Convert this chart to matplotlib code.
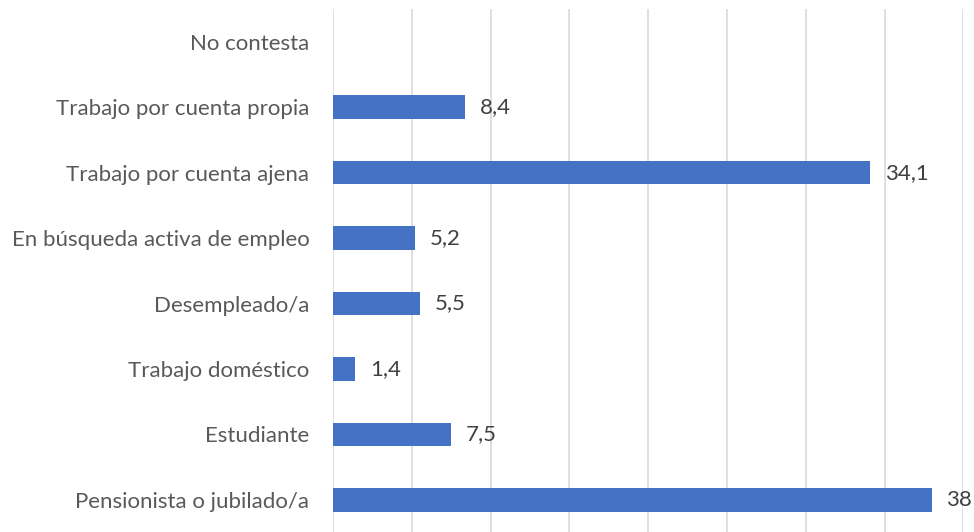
import matplotlib
matplotlib.use("Agg")
import matplotlib.pyplot as plt

categories = ["No contesta", "Trabajo por cuenta propia", "Trabajo por cuenta ajena",
              "En búsqueda activa de empleo", "Desempleado/a", "Trabajo doméstico",
              "Estudiante", "Pensionista o jubilado/a"]
values = [None, 8.4, 34.1, 5.2, 5.5, 1.4, 7.5, 38.0]
value_labels = ["", "8,4", "34,1", "5,2", "5,5", "1,4", "7,5", "38"]

plt.rcParams['font.family'] = ['Lato', 'DejaVu Sans']
fig = plt.figure(figsize=(9.74, 5.32), dpi=100)
ax = fig.add_axes([0.342, -0.001, 0.647, 0.984])

pos = list(range(len(categories)))
vals = [v if v is not None else 0 for v in values]
bars = ax.barh(pos, vals, height=0.36, color="#4472C4", zorder=3)
for p, v, lab in zip(pos, vals, value_labels):
    if lab:
        ax.annotate(lab, (v, p), xytext=(10.5, 0), textcoords="offset points",
                    va="center", ha="left", fontsize=16, color="#404040", clip_on=False)

ax.set_xlim(0, 40)
ax.set_ylim(len(categories) - 0.5, -0.5)
ax.set_xticks(range(0, 41, 5))
ax.xaxis.grid(True, color="#D9D9D9", linewidth=1.2, zorder=0)
ax.set_xticklabels([])
ax.tick_params(axis="x", length=0)
ax.set_yticks(pos)
ax.set_yticklabels(categories, fontsize=16, color="#595959")
ax.tick_params(axis="y", length=0, pad=17)
for s in ["top", "right", "bottom", "left"]:
    ax.spines[s].set_visible(False)

fig.savefig("out.png", dpi=100)
